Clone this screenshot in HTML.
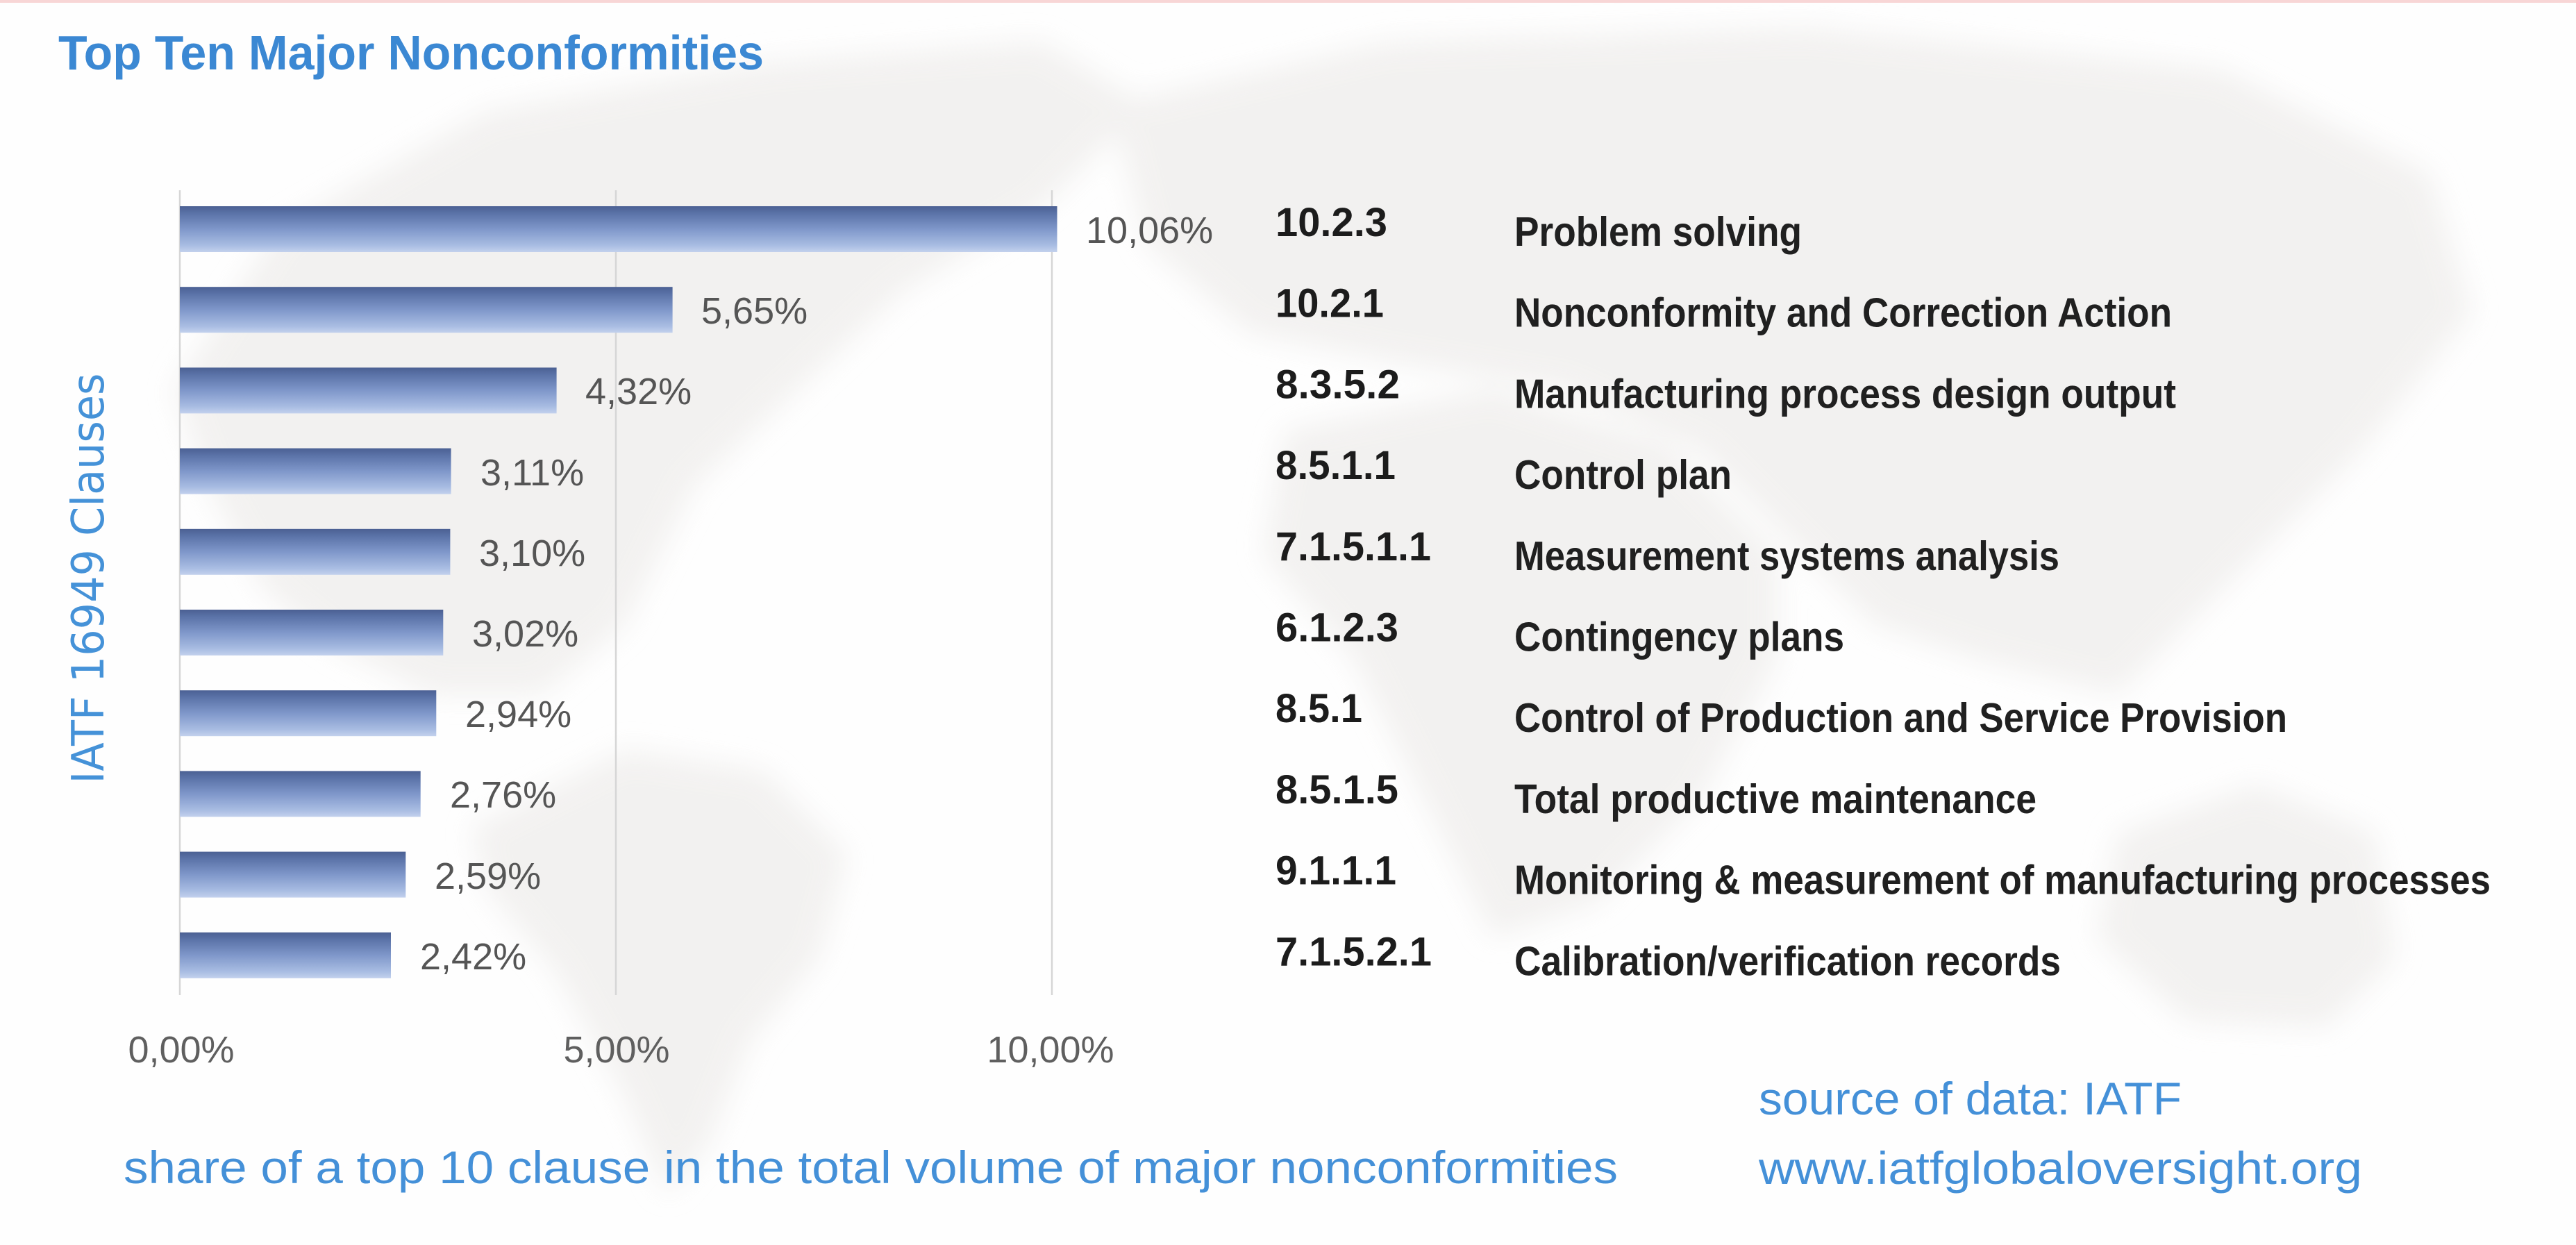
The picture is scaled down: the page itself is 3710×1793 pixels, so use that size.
<!DOCTYPE html>
<html><head><meta charset="utf-8"><style>
html,body{margin:0;padding:0;background:#fff;}
body{width:3710px;height:1793px;overflow:hidden;}
svg{display:block;}
</style></head><body>
<svg width="3710" height="1793" viewBox="0 0 3710 1793" xmlns="http://www.w3.org/2000/svg">
<defs>
<filter id="bl" x="-10%" y="-10%" width="120%" height="120%"><feGaussianBlur stdDeviation="20"/></filter>
<linearGradient id="bar" x1="0" y1="0" x2="0" y2="1">
<stop offset="0" stop-color="#4b6093"/>
<stop offset="0.15" stop-color="#5a72a7"/>
<stop offset="0.5" stop-color="#7f97ca"/>
<stop offset="0.85" stop-color="#a8bce2"/>
<stop offset="1" stop-color="#c3d1ed"/>
</linearGradient>
</defs>
<rect x="0" y="0" width="3710" height="1793" fill="#fefefe"/>
<!-- faint world map -->
<g fill="#ebe9e7" filter="url(#bl)" opacity="0.6">
<polygon points="250,560 400,330 700,160 1100,90 1500,60 1650,150 1500,300 1300,420 1150,560 1000,700 900,900 780,1000 620,1000 480,930 380,850 300,700"/>
<polygon points="680,1190 900,1080 1100,1110 1220,1230 1180,1380 1080,1500 1020,1650 960,1720 900,1580 800,1400 700,1280"/>
<polygon points="1600,150 2000,60 2600,40 3200,100 3500,250 3560,450 3400,650 3250,800 3050,1000 2850,950 2700,900 2600,800 2450,650 2250,560 2000,520 1800,480 1650,350"/>
<polygon points="1850,620 2150,560 2400,640 2560,800 2560,950 2450,1150 2300,1300 2150,1350 2050,1150 1950,950 1820,800"/>
<polygon points="3050,1200 3250,1130 3420,1200 3450,1380 3350,1480 3150,1470 3020,1350"/>
</g>
<!-- top pink line -->
<rect x="0" y="0" width="3710" height="4" fill="#f8d6d6"/>
<!-- title -->
<text x="84" y="100" font-family="Liberation Sans, Arial, sans-serif" font-weight="bold" font-size="70" fill="#3b88d3" textLength="1016" lengthAdjust="spacingAndGlyphs">Top Ten Major Nonconformities</text>
<!-- gridlines -->
<g stroke="#d6d6d6" stroke-width="2.5">
<line x1="259" y1="274" x2="259" y2="1433"/>
<line x1="887" y1="274" x2="887" y2="1433"/>
<line x1="1515" y1="274" x2="1515" y2="1433"/>
</g>
<!-- bars -->
<g fill="url(#bar)">
<rect x="259" y="297" width="1263.5" height="66"/>
<rect x="259" y="413.2" width="709.6" height="66"/>
<rect x="259" y="529.4" width="542.6" height="66"/>
<rect x="259" y="645.6" width="390.6" height="66"/>
<rect x="259" y="761.8" width="389.4" height="66"/>
<rect x="259" y="878" width="379.3" height="66"/>
<rect x="259" y="994.2" width="369.3" height="66"/>
<rect x="259" y="1110.4" width="346.7" height="66"/>
<rect x="259" y="1226.6" width="325.3" height="66"/>
<rect x="259" y="1342.8" width="304" height="66"/>
</g>
<!-- value labels -->
<g font-family="Liberation Sans, Arial, sans-serif" font-size="54" fill="#555555">
<text x="1564" y="350">10,06%</text>
<text x="1010" y="466">5,65%</text>
<text x="843" y="582">4,32%</text>
<text x="692" y="699">3,11%</text>
<text x="690" y="815">3,10%</text>
<text x="680" y="931">3,02%</text>
<text x="670" y="1047">2,94%</text>
<text x="648" y="1163">2,76%</text>
<text x="626" y="1280">2,59%</text>
<text x="605" y="1396">2,42%</text>
</g>
<!-- tick labels -->
<g font-family="Liberation Sans, Arial, sans-serif" font-size="54" fill="#5f5f5f" text-anchor="middle">
<text x="261" y="1530">0,00%</text>
<text x="888" y="1530">5,00%</text>
<text x="1513" y="1530">10,00%</text>
</g>
<!-- y axis label -->
<text transform="translate(149,833) rotate(-90)" x="0" y="0" text-anchor="middle" font-family="DejaVu Sans, Verdana, sans-serif" font-size="64" fill="#4592d8" textLength="591" lengthAdjust="spacingAndGlyphs">IATF 16949 Clauses</text>
<!-- clause numbers -->
<g font-family="Liberation Sans, Arial, sans-serif" font-weight="bold" font-size="58" fill="#1c1c1c">
<text x="1837" y="340" textLength="161" lengthAdjust="spacingAndGlyphs">10.2.3</text>
<text x="1837" y="456.7" textLength="156" lengthAdjust="spacingAndGlyphs">10.2.1</text>
<text x="1837" y="573.4" textLength="179" lengthAdjust="spacingAndGlyphs">8.3.5.2</text>
<text x="1837" y="690.1" textLength="173" lengthAdjust="spacingAndGlyphs">8.5.1.1</text>
<text x="1837" y="806.8" textLength="224" lengthAdjust="spacingAndGlyphs">7.1.5.1.1</text>
<text x="1837" y="923.5" textLength="177" lengthAdjust="spacingAndGlyphs">6.1.2.3</text>
<text x="1837" y="1040.2" textLength="125" lengthAdjust="spacingAndGlyphs">8.5.1</text>
<text x="1837" y="1156.9" textLength="177" lengthAdjust="spacingAndGlyphs">8.5.1.5</text>
<text x="1837" y="1273.6" textLength="174" lengthAdjust="spacingAndGlyphs">9.1.1.1</text>
<text x="1837" y="1390.3" textLength="225" lengthAdjust="spacingAndGlyphs">7.1.5.2.1</text>
</g>
<!-- descriptions -->
<g font-family="Liberation Sans, Arial, sans-serif" font-weight="bold" font-size="59" fill="#202020">
<text x="2181" y="354" textLength="414" lengthAdjust="spacingAndGlyphs">Problem solving</text>
<text x="2181" y="470.7" textLength="947" lengthAdjust="spacingAndGlyphs">Nonconformity and Correction Action</text>
<text x="2181" y="587.4" textLength="953" lengthAdjust="spacingAndGlyphs">Manufacturing process design output</text>
<text x="2181" y="704.1" textLength="313" lengthAdjust="spacingAndGlyphs">Control plan</text>
<text x="2181" y="820.8" textLength="785" lengthAdjust="spacingAndGlyphs">Measurement systems analysis</text>
<text x="2181" y="937.5" textLength="475" lengthAdjust="spacingAndGlyphs">Contingency plans</text>
<text x="2181" y="1054.2" textLength="1113" lengthAdjust="spacingAndGlyphs">Control of Production and Service Provision</text>
<text x="2181" y="1170.9" textLength="752" lengthAdjust="spacingAndGlyphs">Total productive maintenance</text>
<text x="2181" y="1287.6" textLength="1406" lengthAdjust="spacingAndGlyphs">Monitoring &amp; measurement of manufacturing processes</text>
<text x="2181" y="1404.3" textLength="787" lengthAdjust="spacingAndGlyphs">Calibration/verification records</text>
</g>
<!-- bottom texts -->
<g font-family="Liberation Sans, Arial, sans-serif" font-size="66" fill="#4490d8">
<text x="178" y="1704" textLength="2152" lengthAdjust="spacingAndGlyphs">share of a top 10 clause in the total volume of major nonconformities</text>
<text x="2533" y="1605" textLength="609" lengthAdjust="spacingAndGlyphs">source of data: IATF</text>
<text x="2533" y="1705" textLength="869" lengthAdjust="spacingAndGlyphs">www.iatfglobaloversight.org</text>
</g>
</svg>
</body></html>
